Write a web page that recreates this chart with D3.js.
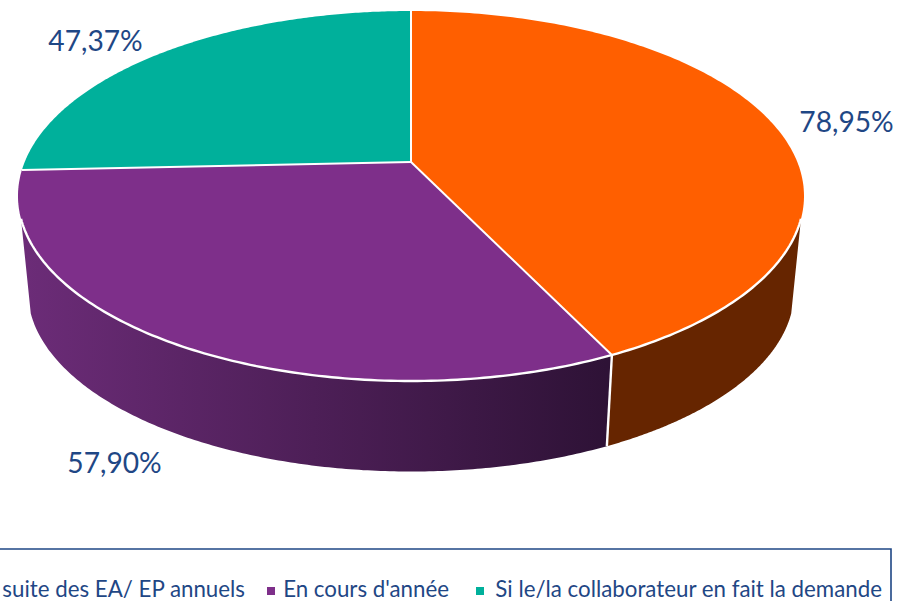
<!DOCTYPE html>
<html><head><meta charset="utf-8">
<script src="https://cdnjs.cloudflare.com/ajax/libs/d3/7.8.5/d3.min.js"></script>
<style>html,body{margin:0;padding:0;background:#fff;overflow:hidden}svg{display:block}text{font-family:Lato,"Open Sans",sans-serif}</style>
</head><body><svg id="c" width="899" height="601"></svg>
<script>
const categories = ["À la suite des EA/ EP annuels", "En cours d'année", "Si le/la collaborateur en fait la demande"];
const values = [78.95, 57.90, 47.37];
const labels = ["78,95%", "57,90%", "47,37%"];
const topColors = ["#FF5F00", "#7E2F8A", "#00B09B"];
const textColor = "#1F4785";

const svg = d3.select("#c");
const pie = d3.pie().sort(null).value(d => d)(values);

// Tilted disc: circle -> screen by a perspective map
const cx = 411, cy = 162, A = 386.3, B = 178.75, k = 0.1838, shrink = 0.975, depth = 96;
const project = (a, bottom) => {
  const u = Math.sin(a), v = -Math.cos(a), w = 1 - k * v;
  const s = bottom ? shrink : 1;
  return [cx + s * A * u / w, cy + s * B * v / w + (bottom ? depth : 0)];
};
const samples = (a0, a1) => d3.range(0, 181).map(i => a0 + (a1 - a0) * i / 180);
const line = d3.line();
// angular range of the wall that faces the viewer
const wallStart = 107.5 * Math.PI / 180, wallEnd = 252.5 * Math.PI / 180;

const defs = svg.append("defs");
const gp = defs.append("linearGradient").attr("id", "sidePurple").attr("gradientUnits", "userSpaceOnUse")
  .attr("x1", 20).attr("x2", 607).attr("y1", 0).attr("y2", 0);
gp.append("stop").attr("offset", 0).attr("stop-color", "#6C2C78");
gp.append("stop").attr("offset", 1).attr("stop-color", "#2E1236");
const sideFill = ["#662500", "url(#sidePurple)", "#00695C"];

// walls
pie.forEach((d, i) => {
  const a0 = Math.max(d.startAngle, wallStart), a1 = Math.min(d.endAngle, wallEnd);
  if (a1 <= a0) return;
  const as = samples(a0, a1);
  const poly = as.map(a => project(a, false)).concat(as.slice().reverse().map(a => project(a, true)));
  svg.append("path").attr("d", line(poly) + "Z").attr("fill", sideFill[i]);
});
// top faces
pie.forEach((d, i) => {
  const pts = [[cx, cy]].concat(samples(d.startAngle, d.endAngle).map(a => project(a, false)));
  svg.append("path").attr("d", line(pts) + "Z").attr("fill", topColors[i]);
});
// white edges: radial lines, front rim, wall seam
pie.forEach(d => {
  svg.append("path").attr("d", line([[cx, cy], project(d.startAngle, false)]))
    .attr("stroke", "#fff").attr("stroke-width", 2).attr("fill", "none");
});
svg.append("path").attr("d", line(samples(wallStart, wallEnd).map(a => project(a, false))))
  .attr("stroke", "#fff").attr("stroke-width", 2.4).attr("fill", "none");
svg.append("path").attr("d", line([project(pie[0].endAngle, false), project(pie[0].endAngle, true)]))
  .attr("stroke", "#fff").attr("stroke-width", 2.4).attr("fill", "none");

// data labels
const labelPos = [[846.5, 132], [114.5, 473], [95.5, 51]];
labels.forEach((t, i) => {
  svg.append("text").attr("x", labelPos[i][0]).attr("y", labelPos[i][1]).attr("text-anchor", "middle")
    .attr("font-size", 28.2).attr("fill", textColor).text(t);
});

// legend box
svg.append("path").attr("d", "M-2,549H891V603").attr("fill", "none").attr("stroke", textColor).attr("stroke-width", 1.6);
const legendEnd = [245, 449, 882], markerX = [null, 267, 476];
categories.forEach((t, i) => {
  svg.append("text").attr("x", legendEnd[i]).attr("y", 597).attr("text-anchor", "end")
    .attr("font-size", 22.3).attr("fill", textColor).text(t);
  if (markerX[i] !== null) svg.append("rect").attr("x", markerX[i]).attr("y", 587).attr("width", 8).attr("height", 8).attr("fill", topColors[i]);
});
</script></body></html>
